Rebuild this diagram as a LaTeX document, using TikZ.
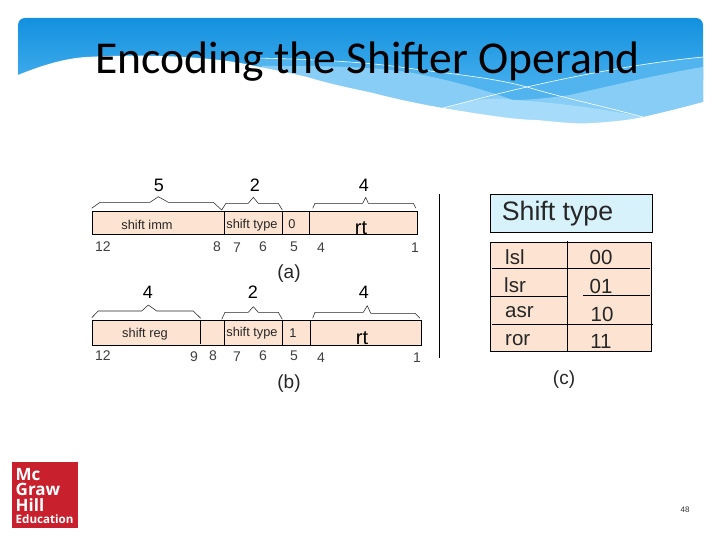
\documentclass[tikz,border=0pt]{standalone}
\usepackage{fontspec}
\setmainfont{Liberation Sans}
\newfontfamily\titlefont{Carlito}
\newfontfamily\logofont{Open Sans}
\definecolor{cellpeach}{HTML}{FDE4D2}
\definecolor{headblue}{HTML}{D8F2FC}
\definecolor{bandtop}{HTML}{1391DE}
\definecolor{bandbase}{HTML}{3FABEC}
\definecolor{bandmid}{HTML}{52B4EF}
\definecolor{bandlow}{HTML}{88CDF6}
\definecolor{bandpale}{HTML}{A6DBF9}
\definecolor{logored}{HTML}{C8202C}
\tikzset{
  fieldbox/.style={draw=black,fill=cellpeach,line width=0.7pt},
  sepline/.style={draw=black,line width=0.7pt},
  brace/.style={draw=black!85,line width=0.55pt,line join=round},
  numlabel/.style={font=\fontsize{14}{16}\selectfont,text=black!75,inner sep=0pt},
  widthlabel/.style={font=\fontsize{18}{20}\selectfont,text=black,inner sep=0pt},
  fieldlabel/.style={font=\fontsize{12.8}{14}\selectfont,text=black!85,inner sep=0pt},
  rtlabel/.style={font=\fontsize{20}{22}\selectfont,text=black,inner sep=0pt,anchor=base},
  caplabel/.style={font=\fontsize{19}{21}\selectfont,text=black!85,inner sep=0pt},
  tablabel/.style={font=\fontsize{20.5}{23}\selectfont,text=black!85,inner sep=0pt},
  logotext/.style={text=white,inner sep=0pt,anchor=base west},
  waveline/.style={draw=white,line width=0.6pt},
}
\begin{document}
\begin{tikzpicture}[x=1pt,y=-1pt]
\useasboundingbox (0,0) rectangle (720,540);
\fill[white] (0,0) rectangle (720,540);
% header band
\begin{scope}
\clip[rounded corners=7pt] (18,18) -- (703,18) -- (703,150) -- (18,150) -- cycle;
\shade[top color=bandtop,bottom color=bandbase] (18,18) rectangle (703,80);
\fill[bandbase] (18,80) rectangle (703,150);
\fill[bandmid] (257,58) .. controls (300,59) and (360,61) .. (407,68)
  .. controls (450,74) and (490,77) .. (527,87)
  .. controls (570,77) and (640,63) .. (703,57) -- (703,150) -- (257,150) -- cycle;
\fill[bandlow] (262,66) .. controls (320,66) and (370,66) .. (413,73)
  .. controls (450,80) and (485,90) .. (513,100)
  .. controls (535,100) and (555,97) .. (570,95)
  .. controls (610,86) and (660,74) .. (703,67) -- (703,150) -- (262,150) -- cycle;
\fill[bandpale] (445,108) -- (470,101) .. controls (490,98) and (505,98) .. (513,100)
  .. controls (550,102) and (600,108) .. (643,117) -- (643,150) -- (445,150) -- cycle;
\draw[waveline] (257,58) .. controls (300,59) and (360,61) .. (407,68)
  .. controls (450,74) and (490,77) .. (527,87)
  .. controls (560,97) and (610,108) .. (643,117);
\draw[waveline] (443,108) .. controls (470,101) and (500,93) .. (527,87)
  .. controls (570,77) and (640,63) .. (703,57);
\end{scope}
\fill[white] (10,75) -- (18,75) .. controls (40,66) and (65,58) .. (87,57)
  .. controls (140,54) and (200,56) .. (240,63)
  .. controls (265,68) and (290,73) .. (307,77)
  .. controls (330,84) and (350,88) .. (373,93)
  .. controls (400,100) and (425,105) .. (443,108)
  .. controls (490,116) and (520,120) .. (537,120)
  .. controls (565,123) and (580,124) .. (593,123)
  .. controls (610,122) and (630,120) .. (643,117)
  .. controls (665,112) and (685,107) .. (703,102) -- (710,102)
  -- (710,155) -- (10,155) -- cycle;
\node[inner sep=0pt,anchor=base,font=\titlefont\fontsize{45.6}{50}\selectfont,text=black] (title) at (367.5,73.5) {Encoding the Shifter Operand};
% row (a)
\draw[fieldbox] (92.3,211.3) rectangle (417.7,234.3);
\draw[sepline] (224.3,211.3) -- (224.3,234.3) (282.3,211.3) -- (282.3,234.3) (309.3,211.3) -- (309.3,234.3);
\draw[brace] (91.7,208.3) -- (100,202.3) -- (150,202.3) -- (158.3,196.7) -- (168.3,202.3) -- (213.3,202.3) -- (221.7,210);
\draw[brace] (221.7,210) -- (226,203.3) -- (248.3,203.3) -- (253.3,197.3) -- (258.3,203.3) -- (278.3,203.3) -- (282.3,210);
\draw[brace] (312.7,208.3) -- (315,203.3) -- (362.7,203.3) -- (365.7,197.3) -- (368.3,203.3) -- (413.3,203.3) -- (416,208.3);
\node[widthlabel] (wa1) at (159,185) {5};
\node[widthlabel] (wa2) at (255,185) {2};
\node[widthlabel] (wa3) at (364,185) {4};
\node[fieldlabel] (fa1) at (147,225) {shift imm};
\node[fieldlabel] (fa2) at (252,225) {shift type};
\node[fieldlabel] (fa3) at (292,224) {0};
\node[rtlabel] (fa4) at (361,234) {rt};
\node[numlabel] (na1) at (103,247) {12};
\node[numlabel] (na2) at (217,247) {8};
\node[numlabel] (na3) at (237,248) {7};
\node[numlabel] (na4) at (263,247) {6};
\node[numlabel] (na5) at (294,247) {5};
\node[numlabel] (na6) at (321,248) {4};
\node[numlabel] (na7) at (415,248) {1};
\node[caplabel] (capa) at (289,274) {(a)};
% row (b)
\draw[fieldbox] (92.3,320.3) rectangle (421.7,345.3);
\draw[sepline] (200,320.3) -- (200,344) (224.3,320.3) -- (224.3,345.3) (282.3,320.3) -- (282.3,345.3) (310.3,320.3) -- (310.3,345.3);
\draw[brace] (91.7,317.7) -- (98.3,311) -- (141.7,311) -- (148.3,305) -- (156.7,311) -- (193.3,311) -- (200.7,318.3);
\draw[brace] (221.7,319.3) -- (225,312.3) -- (248.3,312.3) -- (253.3,306.7) -- (258.3,312.3) -- (278.3,312.3) -- (282.3,319.3);
\draw[brace] (312.7,318.3) -- (315,312.3) -- (363.3,312.3) -- (367.3,305.7) -- (370.7,313.3) -- (415,313.3) -- (420,318.3);
\node[widthlabel] (wb1) at (148,292) {4};
\node[widthlabel] (wb2) at (253,292) {2};
\node[widthlabel] (wb3) at (364,292) {4};
\node[fieldlabel] (fb1) at (145,334) {shift reg};
\node[fieldlabel] (fb2) at (252,333) {shift type};
\node[fieldlabel] (fb3) at (293,333) {1};
\node[rtlabel] (fb4) at (362,344.5) {rt};
\node[numlabel] (nb1) at (103,356) {12};
\node[numlabel] (nb2) at (194,357) {9};
\node[numlabel] (nb3) at (213,356) {8};
\node[numlabel] (nb4) at (237,357) {7};
\node[numlabel] (nb5) at (263,356) {6};
\node[numlabel] (nb6) at (294,356) {5};
\node[numlabel] (nb7) at (321,358) {4};
\node[numlabel] (nb8) at (417,358) {1};
\node[caplabel] (capb) at (289,384) {(b)};
% divider
\draw[black,line width=0.8pt] (439.3,194) -- (439.3,358);
% table (c)
\draw[draw=black,fill=headblue,line width=0.8pt] (490,194.3) rectangle (652.7,232.3);
\node[inner sep=0pt,font=\fontsize{26.7}{29}\selectfont,text=black!85] (head) at (557.5,214) {Shift type};
\draw[fieldbox,line width=0.8pt] (490,242.3) rectangle (651.7,351.3);
\draw[sepline] (567.3,241) -- (567.3,351.3);
\draw[sepline] (491.7,268.3) -- (650,268.3);
\draw[sepline] (490,296.7) -- (567.3,296.7) (583,295.5) -- (650,295.5);
\draw[sepline] (491.7,324.7) -- (652.7,324.7);
\node[tablabel,anchor=west] (t1a) at (505,257) {lsl};
\node[tablabel,anchor=west] (t2a) at (504,285) {lsr};
\node[tablabel,anchor=west] (t3a) at (505,312) {asr};
\node[tablabel,anchor=west] (t4a) at (505,340) {ror};
\node[tablabel] (t1b) at (601,257) {00};
\node[tablabel] (t2b) at (601,286) {01};
\node[tablabel] (t3b) at (602,314) {10};
\node[tablabel] (t4b) at (601,341) {11};
\node[caplabel] (capc) at (564,380) {(c)};
% logo
\fill[logored] (12.3,462) rectangle (77.7,527.7);
\node[logotext,font=\logofont\bfseries\fontsize{17}{18}\selectfont] (mc) at (15.5,480) {Mc};
\node[logotext,font=\logofont\bfseries\fontsize{17}{18}\selectfont] (graw) at (15.5,495.5) {Graw};
\node[logotext,font=\logofont\bfseries\fontsize{17}{18}\selectfont] (hill) at (15.5,511.5) {Hill};
\node[logotext,font=\logofont\bfseries\fontsize{11.6}{12}\selectfont] (edu) at (15.5,523.5) {Education};
% page number
\node[inner sep=0pt,font=\fontsize{8}{9}\selectfont,text=black!80] (page) at (685,509.5) {48};
\end{tikzpicture}
\end{document}
